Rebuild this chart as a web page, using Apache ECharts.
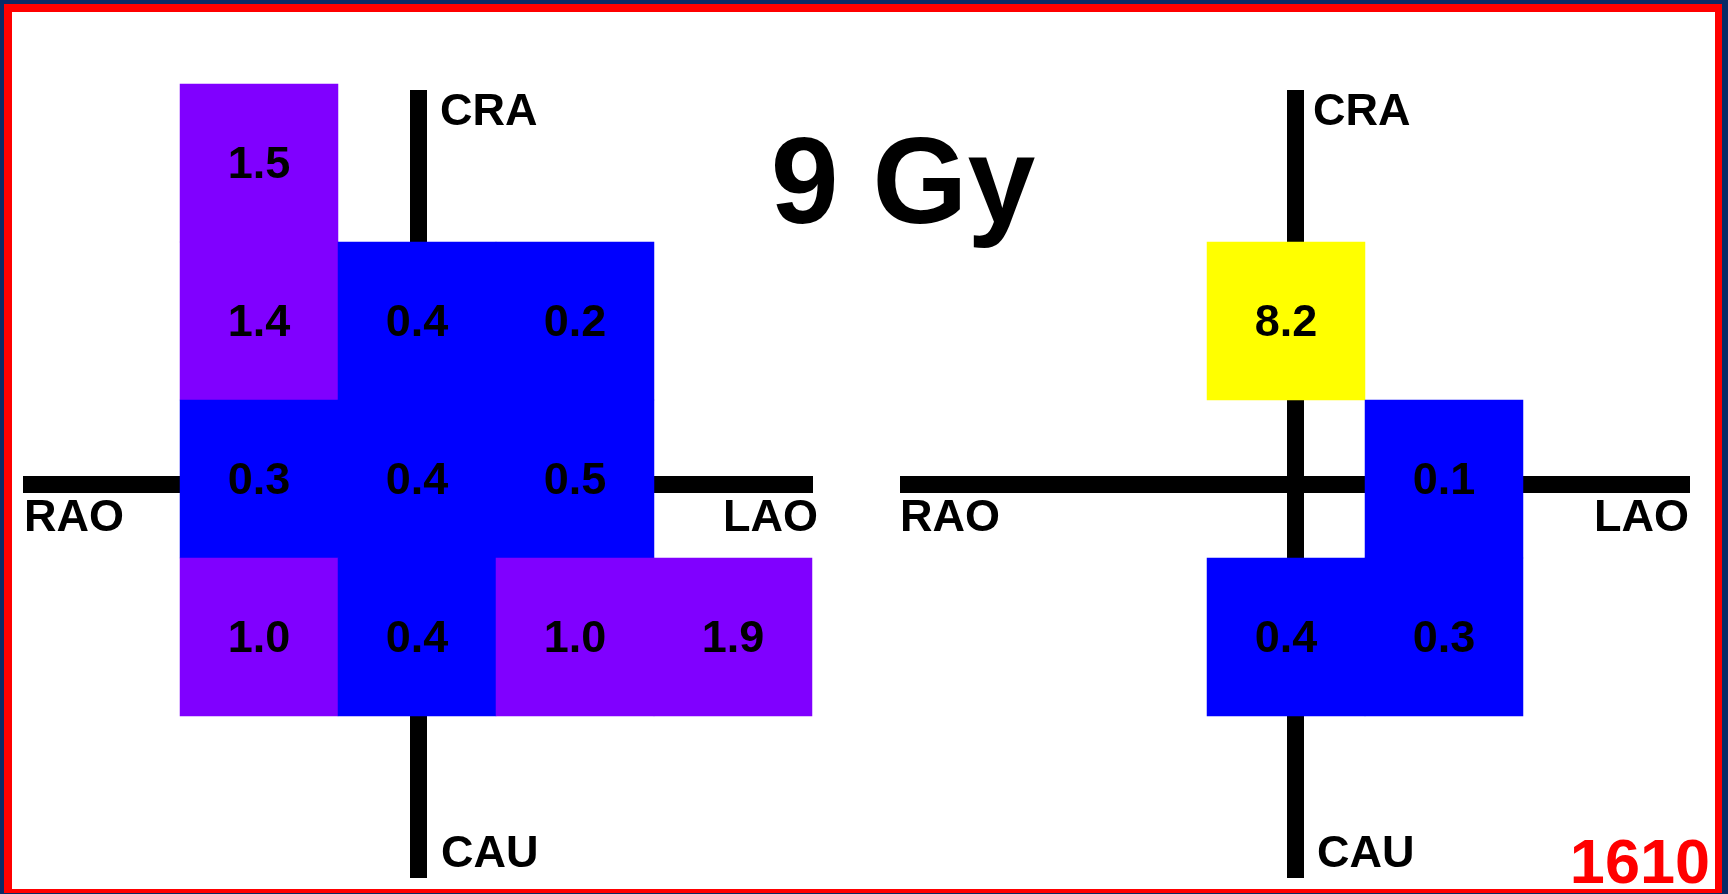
<!DOCTYPE html>
<html>
<head>
<meta charset="utf-8">
<script src="https://cdn.jsdelivr.net/npm/echarts@6/dist/echarts.min.js"></script>
<style>
  html, body { margin: 0; padding: 0; width: 1728px; height: 894px; overflow: hidden; background: #0a2a66; }
  #frame { position: absolute; left: 4px; top: 4px; width: 1718px; height: 889px; box-sizing: border-box;
           border-style: solid; border-color: #ff0000; border-width: 8px 7px 4px 8px; background: #ffffff; }
  #chart { position: absolute; left: 0; top: 0; width: 1728px; height: 894px; z-index: 1; }
</style>
</head>
<body>
<div id="frame"></div>
<div id="chart"></div>
<script>
// Grid positions of the projection cells (columns left->right, rows bottom->top)
const colLabels = ['RAO2', 'RAO1', 'AP', 'LAO1', 'LAO2'];
const rowLabels = ['CAU2', 'CAU1', 'AP', 'CRA1', 'CRA2'];

// Left panel: [column, row, dose in Gy]
const leftDose = [
  ['RAO1', 'CRA2', 1.5],
  ['RAO1', 'CRA1', 1.4], ['AP', 'CRA1', 0.4], ['LAO1', 'CRA1', 0.2],
  ['RAO1', 'AP', 0.3], ['AP', 'AP', 0.4], ['LAO1', 'AP', 0.5],
  ['RAO1', 'CAU1', 1.0], ['AP', 'CAU1', 0.4], ['LAO1', 'CAU1', 1.0], ['LAO2', 'CAU1', 1.9]
];
// Right panel: [column, row, dose in Gy]
const rightDose = [
  ['AP', 'CRA1', 8.2],
  ['LAO1', 'AP', 0.1],
  ['AP', 'CAU1', 0.4], ['LAO1', 'CAU1', 0.3]
];

const titleText = '9 Gy';
const caseId = '1610';
const axisNames = { top: 'CRA', bottom: 'CAU', left: 'RAO', right: 'LAO' };

const FONT = '"Liberation Sans", Arial, sans-serif';
const CELL = 158;

const chart = echarts.init(document.getElementById('chart'), null, { renderer: 'canvas' });

function cellGrid(left) { return { left: left, top: 84, width: CELL * 5, height: CELL * 5, containLabel: false }; }
function lineGrid(left) { return { left: left, top: 90, width: 790, height: 788, containLabel: false }; }

const hiddenCat = (data, gridIndex) => ({ type: 'category', data: data, gridIndex: gridIndex, show: false });
const crossAxis = (gridIndex) => ({
  type: 'value', gridIndex: gridIndex, min: -1, max: 1,
  axisLine: { show: true, onZero: true, lineStyle: { color: '#000000', width: 17, cap: 'butt' } },
  axisTick: { show: false }, axisLabel: { show: false }, splitLine: { show: false }
});

function heat(data, idx) {
  return {
    type: 'heatmap', xAxisIndex: idx, yAxisIndex: idx, data: data, z: 5,
    itemStyle: { borderWidth: 0 },
    label: {
      show: true, color: '#000000', fontFamily: FONT, fontSize: 45, fontWeight: 'bold',
      offset: [0, 3],
      formatter: p => p.value[2].toFixed(1)
    },
    emphasis: { disabled: true }
  };
}

function txt(x, y, text, align, size, color) {
  return { type: 'text', x: x, y: y, z: 10,
    style: { text: text, fill: color || '#000', font: 'bold ' + (size || 45) + 'px ' + FONT,
             textAlign: align || 'left', textVerticalAlign: 'middle' } };
}

const panels = [
  { nameX: 440, cauX: 441, left: 24, right: 818 },
  { nameX: 1313, cauX: 1317, left: 900, right: 1689 }
];
const graphics = [];
panels.forEach(p => {
  graphics.push(txt(p.nameX, 113, axisNames.top, 'left'));
  graphics.push(txt(p.cauX, 855, axisNames.bottom, 'left'));
  graphics.push(txt(p.left, 519, axisNames.left, 'left'));
  graphics.push(txt(p.right, 519, axisNames.right, 'right'));
});
graphics.push(txt(903, 189, titleText, 'center', 122));
graphics.push(txt(1710, 866, caseId, 'right', 63, '#ff0000'));

chart.setOption({
  animation: false,
  backgroundColor: 'transparent',
  grid: [cellGrid(22), cellGrid(891), lineGrid(23), lineGrid(900)],
  xAxis: [hiddenCat(colLabels, 0), hiddenCat(colLabels, 1), crossAxis(2), crossAxis(3)],
  yAxis: [hiddenCat(rowLabels, 0), hiddenCat(rowLabels, 1), crossAxis(2), crossAxis(3)],
  visualMap: {
    type: 'piecewise', show: false, dimension: 2, seriesIndex: [0, 1],
    pieces: [
      { lt: 1, color: '#0000ff' },
      { gte: 1, lt: 5, color: '#8000ff' },
      { gte: 5, color: '#ffff00' }
    ]
  },
  series: [heat(leftDose, 0), heat(rightDose, 1)],
  graphic: graphics
});
</script>
</body>
</html>
